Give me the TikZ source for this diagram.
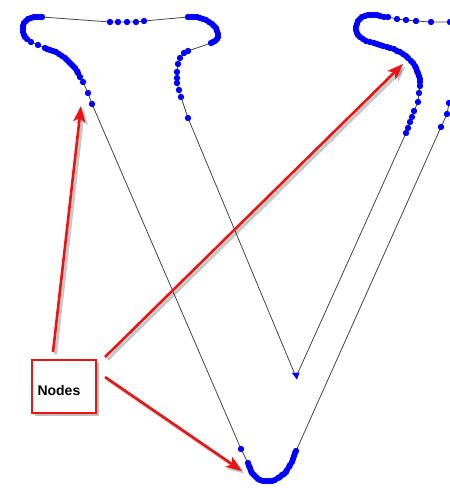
\documentclass[tikz,border=0pt]{standalone}
\usepackage{fontspec}
\setmainfont{Liberation Sans}
\usetikzlibrary{arrows.meta}
\definecolor{dotblue}{RGB}{0,0,255}
\definecolor{linegray}{RGB}{70,70,70}
\definecolor{arrred}{RGB}{235,20,20}
\tikzset{
  dot/.style={circle,fill=dotblue,inner sep=0pt,minimum size=6.4pt},
  conn/.style={draw=linegray,line width=0.8pt},
  redarrow/.style={draw=arrred,line width=2.6pt,-{Stealth[length=16pt,width=12pt,inset=4pt]}},
  shadowarrow/.style={draw=black,opacity=0.22,line width=3.2pt,-{Stealth[length=16pt,width=12pt,inset=4pt]}},
  labelbox/.style={draw=arrred,line width=2pt,fill=white,minimum width=64pt,minimum height=53pt,inner sep=0pt},
}
\newcommand{\pathpts}{
 460/22/0, 450/22/1, 431/22/1, 416/21/1, 406/20/1, 397/19/1, 388/17/1,
 384/17/1, 380/16/1, 377/15/1, 374/15/1, 371/15/1, 368/15/1, 365/16/1, 362/17/1, 360/19/1, 358/21/1,
 357/24/1, 356/27/1, 356/30/1, 357/33/1, 358/35/1, 360/37/1, 363/39/1, 366/41/1, 370/42/1, 374/43/1,
 377/44/1, 380/45/1, 383/46/1, 387/47/1, 390/48/1, 394/49/1, 397/51/1, 400/52/1, 403/54/1, 406/56/1,
 408/58/1, 411/61/1, 413/63/1, 415/66/1, 416/68/1, 417/71/1, 418/73/1, 419/76/1, 420/79/1, 420/82/1,
 420/86/1, 419/93/1, 418/102/1, 414/111/1, 412/117/1, 410/122/1, 408/128/1, 406/133/1,
 296/377/0,
 188/118/1, 181/97/1, 179/90/1, 177/83/1, 177/78/1, 177/72/1, 178/64/1, 180/58/1, 184/53/1, 188/51/1,
 211/43/1, 213/42/1, 215/41/1, 217/39/1, 218/37/1, 218/34/1, 217/31/1, 216/28/1, 214/26/1, 212/24/1,
 209/22/1, 206/20/1, 203/19/1, 200/18/1, 197/17/1, 194/17/1, 191/17/1, 188/17/1,
 144/21/1, 136/22/1, 127/22/1, 118/22/1, 110/22/1,
 42/17/1, 40/17/1, 37/17/1, 34/17/1, 31/18/1, 28/19/1, 26/21/1, 24/23/1, 23/26/1, 23/29/1, 23/32/1,
 24/35/1, 25/37/1, 27/39/1, 31/42/1, 38/45/1, 45/48/1, 47/49/1, 50/50/1, 53/51/1, 56/52/1, 59/54/1,
 62/56/1, 65/58/1, 67/60/1, 69/62/1, 71/64/1, 73/66/1, 75/68/1, 77/71/1, 78/73/1, 80/77/1, 83/82/1,
 88/93/1, 92/104/1,
 241/449/1, 248/463/1, 249/466/1, 250/468/1, 251/471/1, 252/473/1, 254/475/1, 256/477/1, 258/479/1,
 260/480/1, 263/481/1, 266/481/1, 269/481/1, 272/481/1, 275/480/1, 278/478/1, 280/477/1, 282/475/1,
 284/474/1, 286/472/1, 287/470/1, 289/467/1, 290/465/1, 292/462/1, 293/459/1, 294/456/1, 295/453/1,
 296/451/1,
 441/127/1, 447/114/1, 449/103/1, 456/88/0}
\begin{document}
\begin{tikzpicture}[x=1pt,y=-1pt]
\useasboundingbox (0,0) rectangle (450,488);
\begin{scope}
\clip (0,0) rectangle (450,488);
\foreach \x/\y/\d [count=\i] in \pathpts
 {\coordinate (c\i) at (\x,\y); \xdef\npts{\i}}
\draw[conn] (c1) \foreach \i in {2,...,\npts} { -- (c\i) };
% small blue arrow tip at the V
\fill[dotblue] (292,373) -- (299.5,372.5) -- (297,379.5) -- cycle;
\foreach \x/\y/\d [count=\i] in \pathpts
 {\ifnum\d=1 \node[dot] (n\i) at (c\i) {};\fi}
\end{scope}
% label box with shadow
\fill[black,opacity=0.25] (35,363) rectangle (99,416);
\node[labelbox] (lbl) at (64,386.5) {};
\node[font=\bfseries\fontsize{14}{16}\selectfont,anchor=west] (txt) at (34,390.5) {Nodes};
% arrows
\coordinate (a1s) at (53,352); \coordinate (a1t) at (81,106);
\coordinate (a2s) at (105,357); \coordinate (a2t) at (403,64);
\coordinate (a3s) at (105,377); \coordinate (a3t) at (242,471);
\draw[shadowarrow] ([shift={(2.5,2.5)}]a1s) -- ([shift={(2.5,2.5)}]a1t);
\draw[shadowarrow] ([shift={(2.5,2.5)}]a2s) -- ([shift={(2.5,2.5)}]a2t);
\draw[shadowarrow] ([shift={(2.5,2.5)}]a3s) -- ([shift={(2.5,2.5)}]a3t);
\draw[redarrow] (a1s) -- (a1t);
\draw[redarrow] (a2s) -- (a2t);
\draw[redarrow] (a3s) -- (a3t);
\end{tikzpicture}
\end{document}
